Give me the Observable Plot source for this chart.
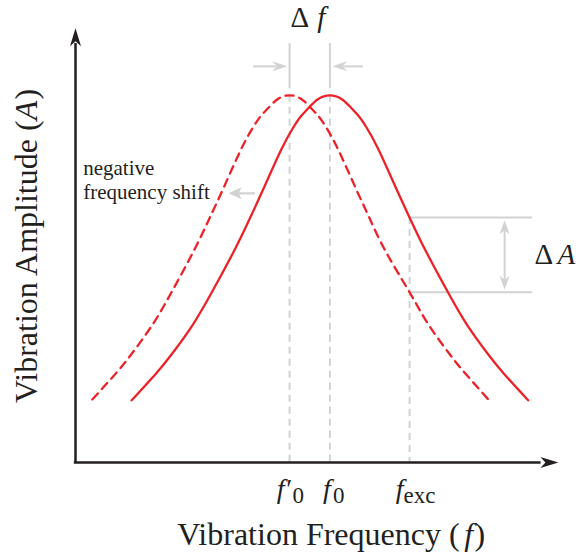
<!DOCTYPE html>
<html>
<head>
<meta charset="utf-8">
<script src="https://cdn.jsdelivr.net/npm/d3@7"></script>
<script src="https://cdn.jsdelivr.net/npm/@observablehq/plot@0.6"></script>
<style>
  html, body { margin: 0; padding: 0; background: #fff; }
  svg { display: block; }
</style>
</head>
<body>
<script>
// Resonance curve of the oscillator (solid) and the same curve after a
// negative frequency shift (dashed). Units are arbitrary (0–100 on both axes).
const frequency = [11.7, 16.7, 20.0, 24.5, 28.4, 33.0, 36.4, 39.3, 42.9, 45.4, 47.0, 48.5, 50.5, 53.0, 55.5, 57.5, 59.0, 60.6, 63.1, 66.7, 69.6, 73.0, 77.6, 81.5, 86.0, 89.3, 94.3];
const amplitude = [14.4, 20.5, 25.0, 32.0, 39.4, 48.9, 56.7, 63.7, 72.5, 77.6, 80.2, 82.0, 84.1, 85.0, 84.1, 82.0, 80.2, 77.6, 72.5, 63.7, 56.7, 48.9, 39.4, 32.0, 25.0, 20.5, 14.4];

const shiftedFrequency = [3.5, 8.3, 11.6, 16.1, 20.0, 24.6, 28.0, 30.9, 34.5, 37.0, 38.6, 40.1, 42.1, 44.6, 47.1, 49.1, 50.6, 52.2, 54.7, 58.3, 61.2, 64.6, 69.6, 73.5, 78.0, 81.3, 86.0];
const shiftedAmplitude = [14.6, 20.5, 25.0, 32.0, 39.4, 48.9, 56.7, 63.7, 72.5, 77.6, 80.2, 82.0, 84.1, 85.0, 84.1, 82.0, 80.2, 77.6, 72.5, 63.7, 56.7, 48.9, 39.4, 32.0, 25.0, 20.5, 14.6];

// Marked frequencies: shifted resonance, resonance, excitation
const tickFrequencies = [44.6, 53.0, 69.6];
const tickSymbols = ["f\u2032", "f", "f"];
const tickSubscripts = ["0", "0", "exc"];

// Amplitude read at the excitation frequency before and after the shift
const amplitudeLevels = [56.7, 39.4];
const peakAmplitude = 85.0;

const [shiftedResonance, resonance, excitation] = tickFrequencies;

const INK = "#231f20";
const RED = "#ec2229";
const GREY = "#d1d2d4";
const SERIF = "'Liberation Serif', 'Times New Roman', serif";

// Filled, notched arrowhead with its tip at the origin, pointing at `angle` degrees
function arrowHead(length, halfWidth, notch, angle) {
  const a = angle * Math.PI / 180, c = Math.cos(a), s = Math.sin(a);
  const pts = [[0, 0], [-length, -halfWidth], [-length + notch, 0], [-length, halfWidth]]
    .map(([x, y]) => [x * c - y * s, x * s + y * c]);
  return {
    draw(context) {
      context.moveTo(pts[0][0], pts[0][1]);
      for (const [x, y] of pts.slice(1)) context.lineTo(x, y);
      context.closePath();
    }
  };
}

function head(x, y, symbol, fill) {
  return Plot.dot([0], {x: () => x, y: () => y, symbol, r: 5, fill, stroke: "none"});
}

function label(text, x, y, options = {}) {
  return Plot.text([text], {
    x: () => x, y: () => y, text: d => d,
    lineAnchor: "bottom", fontFamily: SERIF, fill: INK, ...options
  });
}

// Italic symbol with an upright subscript, placed under the axis
function tickLabel(i, symbolDx, subDx) {
  const x = tickFrequencies[i];
  return [
    label(tickSymbols[i], x, -8.3, {textAnchor: "end", dx: symbolDx, fontSize: 28, fontStyle: "italic"}),
    label(tickSubscripts[i], x, -8.3, {textAnchor: "start", dx: subDx, dy: 5, fontSize: 23})
  ];
}

const chart = Plot.plot({
  width: 578,
  height: 554,
  marginLeft: 75,
  marginRight: 23,
  marginTop: 30,
  marginBottom: 92,
  x: {domain: [0, 100], axis: null},
  y: {domain: [0, 100], axis: null},
  style: {background: "#fff", overflow: "visible"},
  marks: [
    // guide lines through the two resonance peaks
    Plot.ruleX([shiftedResonance, resonance], {y1: 97, y2: 86.5, stroke: GREY, strokeWidth: 2}),
    Plot.ruleX([shiftedResonance, resonance], {y1: peakAmplitude, y2: 0, stroke: GREY, strokeWidth: 2, strokeDasharray: "7 5"}),
    // guide line at the excitation frequency and the two amplitude levels
    Plot.ruleX([excitation], {y1: amplitudeLevels[0], y2: 0, stroke: GREY, strokeWidth: 2, strokeDasharray: "7 5"}),
    Plot.ruleY(amplitudeLevels, {x1: excitation, x2: 95.2, stroke: GREY, strokeWidth: 2}),

    // ΔA double arrow
    Plot.ruleX([89.4], {y1: amplitudeLevels[0] - 2.5, y2: amplitudeLevels[1] + 2.5, stroke: GREY, strokeWidth: 2}),
    head(89.4, amplitudeLevels[0] - 0.6, arrowHead(14, 5, 4, -90), GREY),
    head(89.4, amplitudeLevels[1] + 0.6, arrowHead(14, 5, 4, 90), GREY),

    // Δf arrows pointing at the two peak lines
    Plot.ruleY([91.7], {x1: 37.1, x2: 42, stroke: GREY, strokeWidth: 2}),
    Plot.ruleY([91.7], {x1: 60.0, x2: 55.8, stroke: GREY, strokeWidth: 2}),
    head(shiftedResonance - 0.5, 91.7, arrowHead(15, 5, 5, 0), GREY),
    head(resonance + 0.5, 91.7, arrowHead(15, 5, 5, 180), GREY),

    // direction of the shift
    Plot.ruleY([62.3], {x1: 37.5, x2: 34.0, stroke: GREY, strokeWidth: 2.2}),
    head(31.9, 62.3, arrowHead(13, 6, 3, 180), GREY),

    // resonance curves
    Plot.line(shiftedFrequency, {x: shiftedFrequency, y: shiftedAmplitude, curve: "natural", stroke: RED, strokeWidth: 2.3, strokeDasharray: "8 6"}),
    Plot.line(frequency, {x: frequency, y: amplitude, curve: "natural", stroke: RED, strokeWidth: 2.3}),

    // axes with arrowheads
    Plot.ruleX([0], {y1: 0, y2: 97, stroke: INK, strokeWidth: 2.5}),
    Plot.ruleY([0], {x1: -0.25, x2: 97, stroke: INK, strokeWidth: 2.5}),
    head(0, 100.5, arrowHead(18, 5.5, 5, -90), INK),
    head(100.6, 0, arrowHead(18, 5.5, 5, 0), INK),

    // annotations
    label("\u0394", 49.3, 100.8, {textAnchor: "end", dx: -3, fontSize: 29}),
    label("f", 49.3, 100.8, {textAnchor: "start", dx: 5, fontSize: 29, fontStyle: "italic"}),
    label("\u0394", 95.6, 45.9, {textAnchor: "start", fontSize: 29}),
    label("A", 95.6, 45.9, {textAnchor: "start", dx: 23, fontSize: 29, fontStyle: "italic"}),
    label("negative\nfrequency shift", 1.6, 61.1, {textAnchor: "start", fontSize: 21, lineHeight: 1.14}),

    ...tickLabel(0, 1, 3),
    ...tickLabel(1, 1, 3),
    ...tickLabel(2, -6, -6),

    // axis titles
    label("Vibration Frequency (", 81.9, -19.2, {textAnchor: "end", dx: -9, fontSize: 32}),
    label("f", 81.9, -19.2, {textAnchor: "middle", fontSize: 32, fontStyle: "italic"}),
    label(")", 81.9, -19.2, {textAnchor: "start", dx: 6, fontSize: 32}),
    label("Vibration Amplitude (", -8.1, 81.5, {textAnchor: "end", rotate: -90, dy: 10, fontSize: 32}),
    label("A", -8.1, 81.5, {textAnchor: "middle", rotate: -90, fontSize: 32, fontStyle: "italic"}),
    label(")", -8.1, 81.5, {textAnchor: "start", rotate: -90, dy: -11, fontSize: 32})
  ]
});

document.body.appendChild(chart);
</script>
</body>
</html>
